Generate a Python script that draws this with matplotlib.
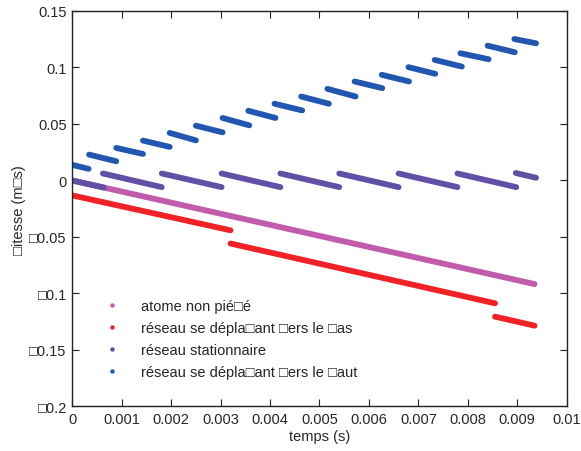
import numpy as np
import matplotlib
matplotlib.use('Agg')
import matplotlib.pyplot as plt
from matplotlib.lines import Line2D

plt.rcParams['font.family'] = ['Liberation Sans', 'DejaVu Sans']
plt.rcParams['font.size'] = 10.5

# segment endpoints: (t0, v0, t1, v1)
atome_t = [0.0, 0.00935]
atome_v = [0.0, -0.0917]

bas_t0 = [0.0, 0.0032, 0.00855]
bas_v0 = [-0.0132, -0.0558, -0.1205]
bas_t1 = [0.0032, 0.00855, 0.00935]
bas_v1 = [-0.0441, -0.1087, -0.1285]

stat_t0 = [0.0, 0.00062, 0.00181, 0.00302, 0.00421, 0.0054, 0.0066, 0.00779, 0.00897]
stat_v0 = [0.0, 0.0062, 0.0062, 0.0062, 0.0062, 0.0062, 0.0062, 0.0062, 0.0066]
stat_t1 = [0.00064, 0.00181, 0.00302, 0.00421, 0.0054, 0.0066, 0.00779, 0.00898, 0.00938]
stat_v1 = [-0.0063, -0.0059, -0.0059, -0.0059, -0.0059, -0.0059, -0.0059, -0.0059, 0.0024]

haut_t0 = [0.0, 0.00034, 0.00089, 0.00143, 0.00197, 0.0025, 0.00304, 0.00356, 0.00409,
           0.00463, 0.00516, 0.00571, 0.00626, 0.0068, 0.00733, 0.00785, 0.0084, 0.00894]
haut_v0 = [0.0138, 0.0229, 0.0288, 0.0353, 0.0421, 0.0485, 0.0553, 0.0617, 0.0679,
           0.0743, 0.0811, 0.0876, 0.0935, 0.1003, 0.1067, 0.1126, 0.1193, 0.1252]
haut_t1 = [0.00033, 0.00089, 0.00143, 0.00197, 0.0025, 0.00304, 0.00358, 0.00411, 0.00465,
           0.00519, 0.00573, 0.00627, 0.00681, 0.00734, 0.00788, 0.00842, 0.00895, 0.00938]
haut_v1 = [0.0103, 0.017, 0.0235, 0.0297, 0.0355, 0.0426, 0.0488, 0.0553, 0.062,
           0.0679, 0.0743, 0.0817, 0.0876, 0.0944, 0.1008, 0.1073, 0.1135, 0.1214]

labels = ['atome non pié\u25a1é',
          'réseau se dépla\u25a1ant \u25a1ers le \u25a1as',
          'réseau stationnaire',
          'réseau se dépla\u25a1ant \u25a1ers le \u25a1aut']
colors = ['#c05cab', '#f02225', '#6150a6', '#2157b0']

xticks = np.round(np.arange(0, 0.0101, 0.001), 3)
xticklabels = ['0', '0.001', '0.002', '0.003', '0.004', '0.005', '0.006', '0.007',
               '0.008', '0.009', '0.01']
yticks = [0.15, 0.1, 0.05, 0, -0.05, -0.1, -0.15, -0.2]
yticklabels = ['0.15', '0.1', '0.05', '0', '\u25a10.05', '\u25a10.1', '\u25a10.15', '\u25a10.2']

fig = plt.figure(figsize=(5.81, 4.52), dpi=100)
ax = fig.add_axes([0.1244, 0.0985, 0.851, 0.8750])

lw = 4.2
seg = dict(linewidth=lw, solid_capstyle='round')

ax.plot(atome_t, atome_v, color=colors[0], **seg)
for a, b, c, d in zip(bas_t0, bas_v0, bas_t1, bas_v1):
    ax.plot([a, c], [b, d], color=colors[1], **seg)
for a, b, c, d in zip(stat_t0, stat_v0, stat_t1, stat_v1):
    ax.plot([a, c], [b, d], color=colors[2], **seg)
for a, b, c, d in zip(haut_t0, haut_v0, haut_t1, haut_v1):
    ax.plot([a, c], [b, d], color=colors[3], **seg)

ax.set_xlim(0, 0.01)
ax.set_ylim(-0.2, 0.15)
ax.set_xticks(xticks)
ax.set_xticklabels(xticklabels)
ax.set_yticks(yticks)
ax.set_yticklabels(yticklabels)
ax.tick_params(direction='in', length=5, width=0.8, top=True, right=True,
               colors='#222222', labelcolor='#262626', pad=4)
for sp in ax.spines.values():
    sp.set_linewidth(1.0)
    sp.set_color('#222222')

ax.set_xlabel('temps (s)', color='#262626', labelpad=2)
ax.set_ylabel('\u25a1itesse (m\u25a1s)', color='#262626', labelpad=2)

handles = [Line2D([], [], linestyle='none', marker='o', markersize=3.2,
                  markeredgewidth=0, color=c) for c in colors]
ax.legend(handles, labels, loc='upper left', bbox_to_anchor=(0.066, 0.272),
          frameon=False, handlelength=1.0, handletextpad=1.5, labelspacing=0.56,
          borderpad=0, borderaxespad=0, fontsize=10.5, labelcolor='#262626')

fig.savefig('out.png', dpi=100)
